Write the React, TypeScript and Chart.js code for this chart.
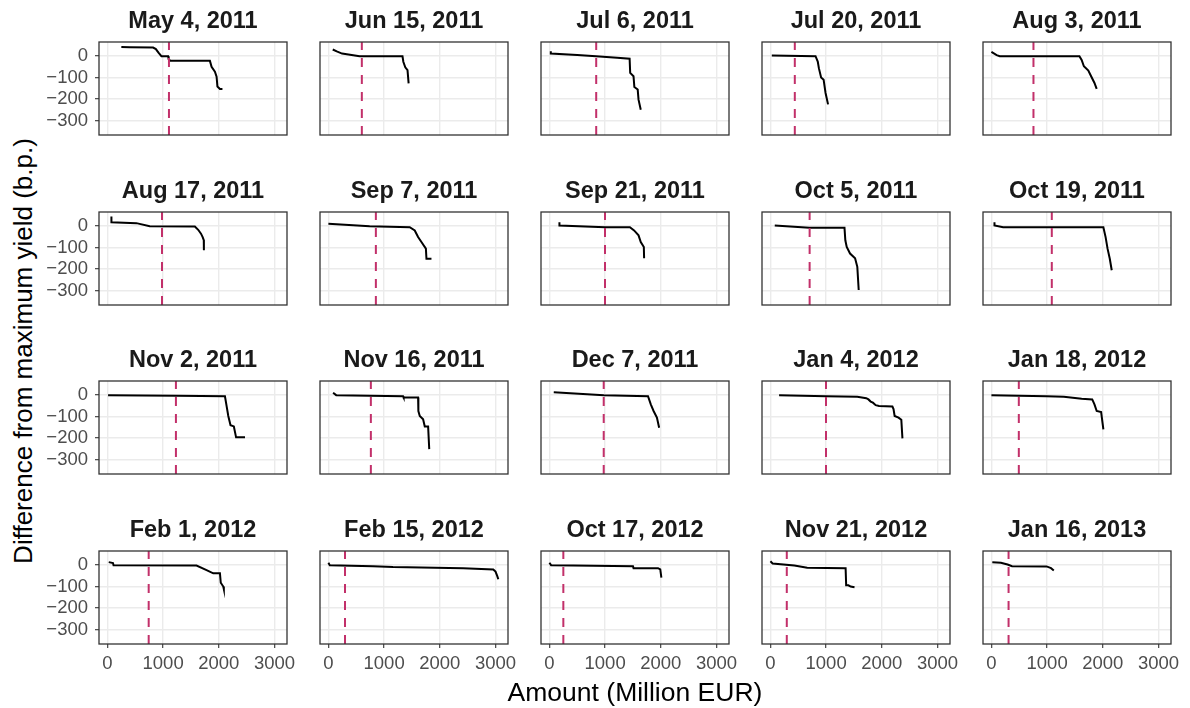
import React, { useEffect, useRef } from "react";
import { Chart, registerables } from "chart.js";

Chart.register(...registerables);

// ---- data ----
const auctionDates = [
  "May 4, 2011", "Jun 15, 2011", "Jul 6, 2011", "Jul 20, 2011", "Aug 3, 2011",
  "Aug 17, 2011", "Sep 7, 2011", "Sep 21, 2011", "Oct 5, 2011", "Oct 19, 2011",
  "Nov 2, 2011", "Nov 16, 2011", "Dec 7, 2011", "Jan 4, 2012", "Jan 18, 2012",
  "Feb 1, 2012", "Feb 15, 2012", "Oct 17, 2012", "Nov 21, 2012", "Jan 16, 2013",
];

const cutoffAmounts = [1105, 600, 840, 438, 755, 980, 852, 998, 704, 1084, 1230, 762, 975, 998, 492, 741, 298, 250, 294, 308];

// [amount (million EUR), difference from maximum yield (b.p.)]
const may4_2011 = [[250, 43], [400, 42], [820, 40], [870, 33], [920, 15], [970, 0], [1090, 0], [1100, -15], [1130, -22], [1840, -22], [1870, -50], [1930, -73], [1960, -96], [1975, -142], [2020, -153], [2065, -153]];
const jun15_2011 = [[78, 31], [150, 22], [245, 12], [560, 0], [1330, -1], [1345, -26], [1380, -52], [1420, -65], [1440, -127]];
const jul6_2011 = [[25, 23], [25, 12], [500, 5], [836, 0], [1215, -8], [1440, -12], [1450, -78], [1510, -94], [1525, -144], [1585, -156], [1600, -203], [1640, -250]];
const jul20_2011 = [[25, 3], [810, 0], [850, -25], [870, -56], [910, -100], [955, -110], [990, -172], [1035, -225]];
const aug3_2011 = [[0, 20], [94, 5], [150, 0], [1580, 0], [1620, -18], [1660, -47], [1740, -67], [1790, -94], [1850, -125], [1890, -153]];
const aug17_2011 = [[72, 45], [72, 18], [520, 14], [760, 0], [1570, -2], [1630, -17], [1680, -35], [1710, -51], [1730, -65], [1732, -113]];
const sep7_2011 = [[0, 11], [740, 0], [1460, -5], [1550, -20], [1610, -51], [1670, -74], [1750, -105], [1760, -152], [1850, -152]];
const sep21_2011 = [[180, 18], [180, 3], [1000, -5], [1445, -5], [1520, -20], [1600, -43], [1640, -74], [1695, -97], [1700, -150]];
const oct5_2011 = [[78, 3], [700, -8], [1330, -8], [1345, -66], [1370, -97], [1430, -128], [1520, -150], [1560, -190], [1585, -298]];
const oct19_2011 = [[55, 18], [55, 3], [210, -5], [2010, -5], [2050, -51], [2085, -105], [2125, -152], [2160, -206]];
const nov2_2011 = [[12, 0], [1240, -3], [2110, -5], [2140, -51], [2170, -97], [2210, -140], [2270, -146], [2310, -197], [2470, -197]];
const nov16_2011 = [[84, 11], [140, 0], [1340, -5], [1350, -11], [1610, -11], [1615, -74], [1640, -97], [1700, -113], [1730, -146], [1790, -146], [1810, -252]];
const dec7_2011 = [[78, 14], [977, 0], [1770, -5], [1820, -43], [1870, -74], [1930, -105], [1970, -152]];
const jan4_2012 = [[156, 0], [1000, -5], [1560, -8], [1720, -14], [1760, -20], [1800, -30], [1840, -35], [1890, -47], [1950, -51], [2190, -53], [2210, -65], [2230, -97], [2300, -105], [2350, -115], [2370, -202]];
const jan18_2012 = [[0, 0], [990, -5], [1300, -8], [1620, -17], [1810, -20], [1850, -43], [1890, -74], [1970, -79], [2010, -160]];
const feb1_2012 = [[24, 14], [100, 10], [110, 0], [1600, -2], [1780, -23], [1900, -38], [2020, -38], [2035, -82], [2080, -100], [2090, -112]];
const feb15_2012 = [[0, 11], [24, 0], [800, -5], [1160, -9], [2420, -15], [2960, -20], [3000, -30], [3030, -50], [3050, -66]];
const oct17_2012 = [[0, 11], [30, 0], [430, -2], [1500, -5], [1510, -14], [1950, -14], [1990, -20], [2010, -58]];
const nov21_2012 = [[0, 18], [40, 8], [430, -2], [660, -12], [1350, -14], [1360, -94], [1400, -94], [1440, -100], [1510, -103]];
const jan16_2013 = [[16, 14], [170, 11], [290, 3], [370, -5], [990, -6], [1070, -14], [1120, -25]];

const curves = [
  may4_2011, jun15_2011, jul6_2011, jul20_2011, aug3_2011,
  aug17_2011, sep7_2011, sep21_2011, oct5_2011, oct19_2011,
  nov2_2011, nov16_2011, dec7_2011, jan4_2012, jan18_2012,
  feb1_2012, feb15_2012, oct17_2012, nov21_2012, jan16_2013,
];

const xTicks = [0, 1000, 2000, 3000];
const yTicks = [0, -100, -200, -300];
const X_MIN = -151;
const X_MAX = 3224;
const Y_MIN = -368;
const Y_MAX = 66;

// ---- layout ----
const COLS = 5;
const PANEL_LEFT = [99, 320, 541, 762, 983];
const PANEL_TOP = [42, 212, 381, 551];
const PANEL_W = 188;
const PANEL_H = 93;
const PAD_L = 60;
const PAD_R = 26;
const PAD_T = 40;
const PAD_B = 36;

const FONT = "'Liberation Sans', Arial, Helvetica, sans-serif";
const TITLE_SIZE = 23.5;

const panelFrame = {
  id: "panelFrame",
  afterDraw(chart: any) {
    const { ctx, chartArea: a } = chart;
    ctx.save();
    ctx.strokeStyle = "#333333";
    ctx.lineWidth = 1.3;
    ctx.strokeRect(a.left, a.top, a.right - a.left, a.bottom - a.top);
    ctx.restore();
  },
};

function minusLabel(v: number) {
  return v < 0 ? "\u2212" + Math.abs(v) : String(v);
}

function Panel({ index }: { index: number }) {
  const ref = useRef<HTMLCanvasElement | null>(null);
  const row = Math.floor(index / COLS);
  const col = index % COLS;
  const width = PAD_L + PANEL_W + PAD_R;
  const height = PAD_T + PANEL_H + PAD_B;

  useEffect(() => {
    const showX = row === PANEL_TOP.length - 1;
    const showY = col === 0;
    const titleLine = TITLE_SIZE * 1.2;
    const chart = new Chart(ref.current as HTMLCanvasElement, {
      type: "line",
      data: {
        datasets: [
          {
            data: [
              { x: cutoffAmounts[index], y: Y_MIN },
              { x: cutoffAmounts[index], y: Y_MAX },
            ],
            borderColor: "#C2306A",
            borderWidth: 2,
            borderDash: [9, 8],
            pointRadius: 0,
          },
          {
            data: curves[index].map(([x, y]) => ({ x, y })),
            borderColor: "#000000",
            borderWidth: 2,
            pointRadius: 0,
            tension: 0,
          },
        ],
      },
      options: {
        animation: false,
        responsive: false,
        devicePixelRatio: 1,
        events: [],
        layout: { padding: { left: 0, right: PAD_R, top: 0, bottom: 0 } },
        plugins: {
          legend: { display: false },
          tooltip: { enabled: false },
          title: {
            display: true,
            text: auctionDates[index],
            fullSize: false,
            color: "#1A1A1A",
            font: { family: FONT, size: TITLE_SIZE, weight: "bold", lineHeight: 1.2 },
            padding: { top: 5.2, bottom: PAD_T - titleLine - 5.2 },
          },
        },
        scales: {
          x: {
            type: "linear",
            min: X_MIN,
            max: X_MAX,
            afterBuildTicks: (s: any) => {
              s.ticks = xTicks.map((v) => ({ value: v }));
            },
            afterFit: (s: any) => {
              s.height = PAD_B;
              s.paddingLeft = 0;
              s.paddingRight = 0;
              s.paddingTop = 0;
              s.paddingBottom = 0;
            },
            ticks: {
              display: showX,
              color: "#4D4D4D",
              font: { family: FONT, size: 18.5 },
              padding: 5,
              maxRotation: 0,
              callback: (v: any) => String(v),
            },
            grid: {
              color: "#EBEBEB",
              lineWidth: 1.4,
              drawTicks: showX,
              tickLength: 4,
              tickColor: "#333333",
              tickWidth: 1.1,
            },
            border: { display: false },
          },
          y: {
            type: "linear",
            min: Y_MIN,
            max: Y_MAX,
            afterBuildTicks: (s: any) => {
              s.ticks = yTicks.map((v) => ({ value: v }));
            },
            afterFit: (s: any) => {
              s.width = PAD_L;
              s.paddingLeft = 0;
              s.paddingRight = 0;
              s.paddingTop = 0;
              s.paddingBottom = 0;
            },
            ticks: {
              display: showY,
              color: "#4D4D4D",
              font: { family: FONT, size: 18.5 },
              padding: 7,
              callback: (v: any) => minusLabel(Number(v)),
            },
            grid: {
              color: "#EBEBEB",
              lineWidth: 1.4,
              drawTicks: showY,
              tickLength: 4,
              tickColor: "#333333",
              tickWidth: 1.1,
            },
            border: { display: false },
          },
        },
      } as any,
      plugins: [panelFrame],
    });
    return () => chart.destroy();
  }, [index, row, col]);

  return (
    <canvas
      ref={ref}
      width={width}
      height={height}
      style={{
        position: "absolute",
        left: PANEL_LEFT[col] - PAD_L,
        top: PANEL_TOP[row] - PAD_T,
        width,
        height,
      }}
    />
  );
}

export default function App() {
  return (
    <div
      style={{
        position: "absolute",
        left: 0,
        top: 0,
        width: 1190,
        height: 708,
        background: "#FFFFFF",
        overflow: "hidden",
        fontFamily: FONT,
      }}
    >
      {auctionDates.map((_, i) => (
        <Panel key={i} index={i} />
      ))}
      <div
        style={{
          position: "absolute",
          left: 635,
          top: 679,
          transform: "translateX(-50%)",
          fontSize: 26.5,
          lineHeight: "26.5px",
          color: "#000000",
          whiteSpace: "nowrap",
        }}
      >
        Amount (Million EUR)
      </div>
      <div
        style={{
          position: "absolute",
          left: 23,
          top: 351,
          transform: "translate(-50%, -50%) rotate(-90deg)",
          fontSize: 26,
          lineHeight: "26px",
          color: "#000000",
          whiteSpace: "nowrap",
        }}
      >
        Difference from maximum yield (b.p.)
      </div>
    </div>
  );
}
